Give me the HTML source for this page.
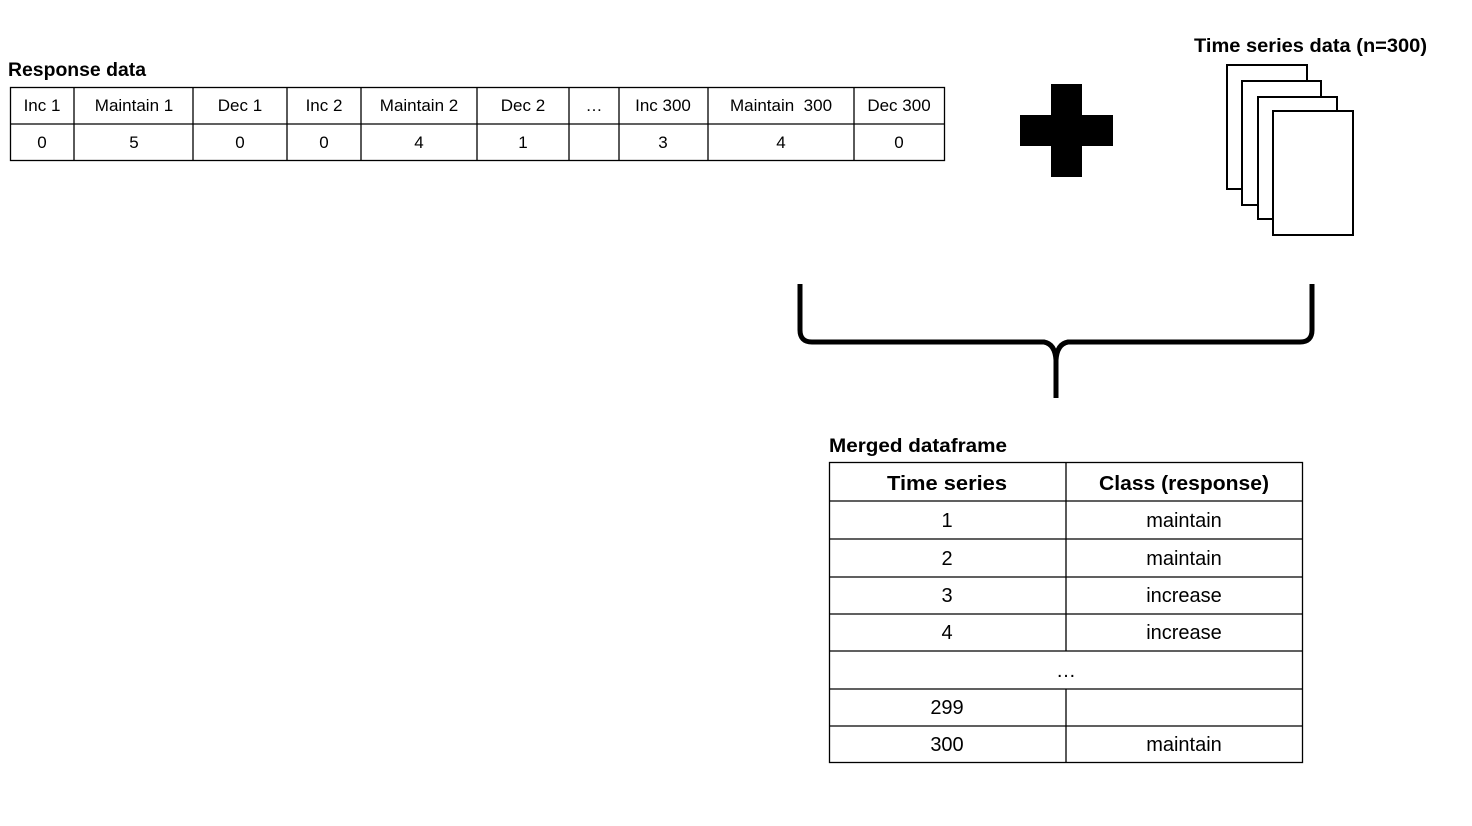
<!DOCTYPE html>
<html><head><meta charset="utf-8"><style>
html,body{margin:0;padding:0;background:#fff;}
svg{display:block;font-family:"Liberation Sans",sans-serif;}
</style></head><body>
<svg width="1472" height="826" viewBox="0 0 1472 826" xmlns="http://www.w3.org/2000/svg">
<text x="8" y="76" font-size="19" font-weight="bold" textLength="138" lengthAdjust="spacingAndGlyphs">Response data</text>
<g stroke="#000" stroke-width="1.3" fill="none">
<rect x="10.5" y="87.5" width="934" height="73"/>
<line x1="10" y1="124" x2="944" y2="124"/>
<line x1="74" y1="87" x2="74" y2="161"/>
<line x1="193" y1="87" x2="193" y2="161"/>
<line x1="287" y1="87" x2="287" y2="161"/>
<line x1="361" y1="87" x2="361" y2="161"/>
<line x1="477" y1="87" x2="477" y2="161"/>
<line x1="569" y1="87" x2="569" y2="161"/>
<line x1="619" y1="87" x2="619" y2="161"/>
<line x1="708" y1="87" x2="708" y2="161"/>
<line x1="854" y1="87" x2="854" y2="161"/>
</g>
<g font-size="17" text-anchor="middle">
<text x="42" y="111">Inc 1</text><text x="134" y="111">Maintain 1</text><text x="240" y="111">Dec 1</text>
<text x="324" y="111">Inc 2</text><text x="419" y="111">Maintain 2</text><text x="523" y="111">Dec 2</text>
<text x="594" y="111">…</text><text x="663" y="111">Inc 300</text><text x="781" y="111">Maintain&#160; 300</text><text x="899" y="111">Dec 300</text>
<text x="42" y="148">0</text><text x="134" y="148">5</text><text x="240" y="148">0</text>
<text x="324" y="148">0</text><text x="419" y="148">4</text><text x="523" y="148">1</text>
<text x="663" y="148">3</text><text x="781" y="148">4</text><text x="899" y="148">0</text>
</g>
<rect x="1051" y="84" width="31" height="93" fill="#000"/>
<rect x="1020" y="115" width="93" height="31" fill="#000"/>
<text x="1194" y="52" font-size="19" font-weight="bold" textLength="233" lengthAdjust="spacingAndGlyphs">Time series data (n=300)</text>
<g stroke="#000" stroke-width="2" fill="#fff">
<rect x="1227" y="65" width="80" height="124"/>
<rect x="1242" y="81" width="79" height="124"/>
<rect x="1258" y="97" width="79" height="122"/>
<rect x="1273" y="111" width="80" height="124"/>
</g>
<path d="M800 284 L800 330 Q800 342 812 342 L1044 342 Q1055 344 1056 360 L1056 398 M1056 398 L1056 360 Q1057 344 1068 342 L1300 342 Q1312 342 1312 330 L1312 284" stroke="#000" stroke-width="5" fill="none"/>
<text x="829" y="452" font-size="19" font-weight="bold" textLength="178" lengthAdjust="spacingAndGlyphs">Merged dataframe</text>
<g stroke="#000" stroke-width="1.3" fill="none">
<rect x="829.5" y="462.5" width="473" height="300"/>
<line x1="829" y1="501" x2="1303" y2="501"/>
<line x1="829" y1="539" x2="1303" y2="539"/>
<line x1="829" y1="577" x2="1303" y2="577"/>
<line x1="829" y1="614" x2="1303" y2="614"/>
<line x1="829" y1="651" x2="1303" y2="651"/>
<line x1="829" y1="689" x2="1303" y2="689"/>
<line x1="829" y1="726" x2="1303" y2="726"/>
<line x1="1066" y1="462" x2="1066" y2="651"/>
<line x1="1066" y1="689" x2="1066" y2="763"/>
</g>
<g font-size="20" text-anchor="middle">
<text x="947" y="490" font-weight="bold" textLength="120" lengthAdjust="spacingAndGlyphs">Time series</text>
<text x="1184" y="490" font-weight="bold" textLength="170" lengthAdjust="spacingAndGlyphs">Class (response)</text>
<text x="947" y="527">1</text><text x="1184" y="527">maintain</text>
<text x="947" y="565">2</text><text x="1184" y="565">maintain</text>
<text x="947" y="602">3</text><text x="1184" y="602">increase</text>
<text x="947" y="639">4</text><text x="1184" y="639">increase</text>
<text x="1066" y="677">…</text>
<text x="947" y="714">299</text>
<text x="947" y="751">300</text><text x="1184" y="751">maintain</text>
</g>
</svg>
</body></html>
